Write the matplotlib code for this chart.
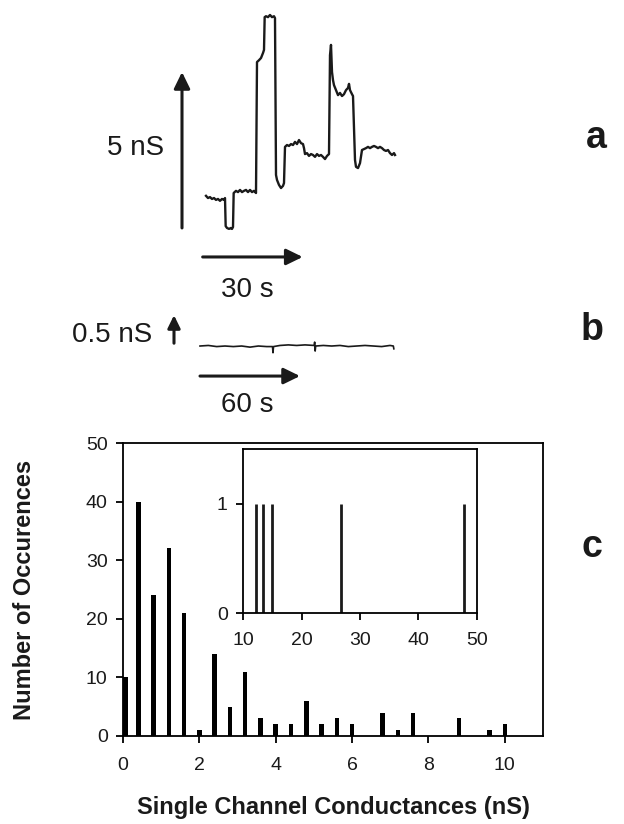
import matplotlib

matplotlib.use("Agg")
import matplotlib.pyplot as plt

plt.rcParams["font.family"] = ["Liberation Sans", "DejaVu Sans"]

INK = "#1a1a1a"

# panel a: conductance trace (time in s, conductance in nS)
trace_a_t = [0, 0.6, 1.2, 1.8, 2.4, 3.0, 3.6, 4.2, 4.8, 5.4, 5.7, 5.9, 6.3, 6.9, 7.5, 7.8, 8.1,
             8.3, 9.0, 9.6, 10.2, 10.8, 11.4, 12.0, 12.6, 13.2, 13.8, 14.4, 15.0,
             15.3, 15.9, 16.5, 17.1, 17.4, 17.6, 18.0, 18.6, 19.2, 19.8, 20.4, 20.7,
             21.0, 21.3, 21.9, 22.5, 23.1, 23.4, 23.7, 24.3, 24.9, 25.5, 26.1, 26.7,
             27.3, 27.9, 28.5, 29.1, 29.4, 29.7, 30.3, 30.9, 31.5, 32.1, 32.7, 33.3,
             33.9, 34.5, 35.1, 35.7, 36.3, 36.9, 37.2, 37.5, 37.8, 38.1, 38.4, 39.0,
             39.6, 40.2, 40.8, 41.4, 42.0, 42.6, 42.9, 43.2, 43.8, 44.1, 44.7, 45.0,
             45.6, 46.2, 46.8, 47.4, 48.0, 48.6, 49.2, 49.8, 50.4, 51.0, 51.6, 52.2,
             52.8, 53.4, 54.0, 54.6, 55.2, 55.8, 56.4, 56.7]
trace_a_g = [1.03, 0.96, 0.99, 0.93, 0.96, 0.90, 0.93, 0.87, 0.93, 0.90, 0.96, 0.06, 0.0,
             -0.03, 0.0, -0.03, 0.03,
             1.12, 1.19, 1.15, 1.22, 1.15, 1.19, 1.22, 1.15, 1.22, 1.15, 1.19, 1.12,
             5.32, 5.38, 5.45, 5.61, 5.71, 6.76, 6.79, 6.76, 6.83, 6.76, 6.79, 6.73,
             1.70, 1.54, 1.38, 1.28, 1.35, 1.44, 2.60, 2.66, 2.63, 2.69, 2.66, 2.76,
             2.69, 2.82, 2.72, 2.69, 2.56, 2.37, 2.40, 2.31, 2.37, 2.34, 2.28, 2.37,
             2.31, 2.34, 2.28, 2.21, 2.31, 2.37, 5.54, 5.87, 5.0, 4.74, 4.58, 4.42,
             4.26, 4.33, 4.23, 4.29, 4.42, 4.49, 4.62, 4.42, 4.29, 4.23, 2.18, 1.96,
             1.92, 2.08, 2.50, 2.53, 2.56, 2.60, 2.56, 2.60, 2.63, 2.60, 2.56, 2.60,
             2.56, 2.50, 2.47, 2.50, 2.40, 2.34, 2.40, 2.34]

# panel b: control trace (time in s, conductance in nS)
trace_b_t = [0, 5, 10, 15, 20, 25, 30, 35, 40, 43.5, 43.8, 44.1, 48, 53, 58, 63,
             68.5, 68.8, 69.1, 69.4, 74, 79, 84, 89, 94, 99, 104, 109, 114, 116, 116.3]
trace_b_g = [0, 0.01, -0.01, 0.0, -0.01, 0.0, -0.02, 0.0, -0.01, -0.01, -0.12, -0.01,
             0.01, 0.02, 0.01, 0.02, 0.01, 0.07, -0.09, 0.0, 0.01, 0.0, 0.01, -0.01,
             0.0, 0.01, 0.0, -0.01, 0.01, 0.0, -0.05]

# panel c: histogram of single channel conductances
cond_nS = [0.06, 0.4, 0.8, 1.2, 1.6, 2.0, 2.4, 2.8, 3.2, 3.6, 4.0, 4.4, 4.8, 5.2, 5.6,
           6.0, 6.8, 7.2, 7.6, 8.8, 9.6, 10.0]
counts = [10, 40, 24, 32, 21, 1, 14, 5, 11, 3, 2, 2, 6, 2, 3, 2, 4, 1, 4, 3, 1, 2]

# inset: large conductances
inset_nS = [12.2, 13.4, 15.0, 26.7, 47.7]
inset_counts = [1, 1, 1, 1, 1]

W, H = 624, 824
fig = plt.figure(figsize=(W / 100, H / 100), dpi=100)


def px_axes(x0, y0, x1, y1):
    """Axes placed by pixel box (top-left origin)."""
    return fig.add_axes([x0 / W, 1 - y1 / H, (x1 - x0) / W, (y1 - y0) / H])


def arrow(ax, start, end, lw=2.2, scale=22):
    ax.annotate("", xy=end, xytext=start,
                arrowprops=dict(arrowstyle="-|>,head_length=0.45,head_width=0.22",
                                lw=lw, color=INK, shrinkA=0, shrinkB=0,
                                mutation_scale=scale))


# ---- panel a
ax_a = px_axes(100, 0, 420, 300)
ax_a.set_xlim(-31.8, 64.2)
ax_a.set_ylim(-2.31, 7.31)
ax_a.axis("off")
ax_a.plot(trace_a_t, trace_a_g, color=INK, lw=1.7)
arrow(ax_a, (-7.2, 0.0), (-7.2, 5.0))
arrow(ax_a, (-1.0, -0.93), (29.0, -0.93))
ax_a.text(-21.0, 2.56, "5 nS", fontsize=20, color=INK, ha="center", va="center")
ax_a.text(12.3, -1.99, "30 s", fontsize=20, color=INK, ha="center", va="center")

# ---- panel b
ax_b = px_axes(60, 300, 420, 420)
ax_b.set_xlim(-84, 132)
ax_b.set_ylim(-1.32, 0.821)
ax_b.axis("off")
ax_b.plot(trace_b_t, trace_b_g, color=INK, lw=1.2)
arrow(ax_b, (-15.6, 0.05), (-15.6, 0.55), scale=17)
arrow(ax_b, (0, -0.536), (60, -0.536))
ax_b.text(-52.8, 0.196, "0.5 nS", fontsize=20, color=INK, ha="center", va="center")
ax_b.text(28.2, -1.05, "60 s", fontsize=20, color=INK, ha="center", va="center")

# ---- panel c
ax_c = px_axes(123, 443, 543, 736)
ax_c.bar(cond_nS, counts, width=0.12, color="black")
ax_c.set_xlim(0, 11)
ax_c.set_ylim(0, 50)
ax_c.set_xticks(range(0, 11, 2))
ax_c.set_yticks(range(0, 51, 10))
ax_c.tick_params(direction="out", length=5, width=1.3, labelsize=14,
                 labelcolor=INK, pad=6)
ax_c.tick_params(axis="x", pad=10)
for sp in ax_c.spines.values():
    sp.set_linewidth(1.3)
ax_c.set_xlabel("Single Channel Conductances (nS)", fontsize=17, fontweight="bold",
                color=INK, labelpad=16)
ax_c.set_ylabel("Number of Occurences", fontsize=17, fontweight="bold",
                color=INK, labelpad=36)

ax_in = px_axes(243, 449, 477, 613)
ax_in.vlines(inset_nS, 0, inset_counts, color=INK, lw=2.0)
ax_in.set_xlim(10, 50)
ax_in.set_ylim(0, 1.5)
ax_in.set_xticks(range(10, 51, 10))
ax_in.set_yticks([0, 1])
ax_in.tick_params(direction="out", length=5, width=1.3, labelsize=14,
                  labelcolor=INK, pad=6)
ax_in.tick_params(axis="x", pad=9)
for sp in ax_in.spines.values():
    sp.set_linewidth(1.3)

# panel letters
for letter, (lx, ly) in {"a": (596, 138), "b": (592, 330), "c": (592, 547)}.items():
    fig.text(lx / W, 1 - ly / H, letter, fontsize=27, fontweight="bold", color=INK,
             ha="center", va="center")

fig.savefig("out.png", dpi=100, facecolor="white")
